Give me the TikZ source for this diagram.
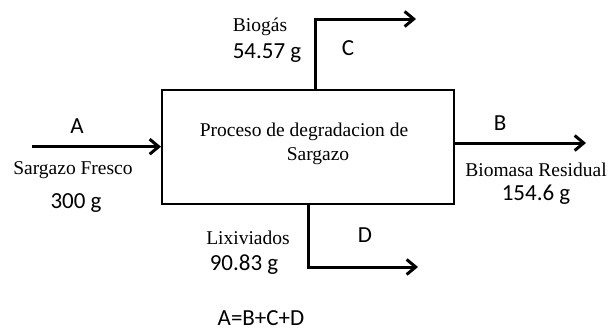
\documentclass[tikz,border=0pt]{standalone}
\usepackage{fontspec}
\setmainfont{Liberation Serif}
\newfontfamily\calib{Carlito}
\usetikzlibrary{arrows.meta}
\begin{document}
\begin{tikzpicture}[x=1pt,y=-1pt,
  serif/.style={font=\fontsize{19.5}{22}\selectfont, inner sep=0pt},
  sans/.style={font=\calib\fontsize{23}{26}\selectfont, inner sep=0pt},
  flow/.style={line width=3pt, -{Straight Barb[length=9pt,width=15pt,line width=3pt]}},
  box/.style={draw, line width=2pt, minimum width=292pt, minimum height=114pt, inner sep=0pt}]
\useasboundingbox (0,0) rectangle (610,332);
\fill[white] (0,0) rectangle (610,332);
\node[box] (p) at (308,147) {};
\node[serif] (t1) at (304,132) {Proceso de degradacion de};
\node[serif] (t2) at (318,156) {Sargazo};
% inputs/outputs
\coordinate (ain) at (32,146.7);
\draw[flow] (ain) -- (p.west |- ain);
\coordinate (bend) at (586,143);
\draw[flow] (p.east |- bend) -- (bend);
\coordinate (cb) at (315.7,90);
\coordinate (ct) at (315.7,19);
\coordinate (ce) at (416,19);
\draw[flow] (p.north -| cb) -- (ct) -- (ce);
\coordinate (db) at (308,267);
\coordinate (de) at (418,267);
\draw[flow] (p.south -| db) -- (db) -- (de);
% labels
\node[sans] (la) at (77,126) {A};
\node[serif] (sf) at (73,170) {Sargazo Fresco};
\node[sans] (m1) at (76,203) {300 g};
\node[serif] (bg) at (260,27) {Biogás};
\node[sans] (m2) at (267,53) {54.57 g};
\node[sans] (lc) at (348,48) {C};
\node[serif] (lx) at (248,238) {Lixiviados};
\node[sans] (m3) at (244,265) {90.83 g};
\node[sans] (ld) at (365,235) {D};
\node[sans] (eq) at (261,318) {A=B+C+D};
\node[sans] (lb) at (500,123) {B};
\node[serif] (br) at (536,170) {Biomasa Residual};
\node[sans] (m4) at (536,195) {154.6 g};
\end{tikzpicture}
\end{document}
